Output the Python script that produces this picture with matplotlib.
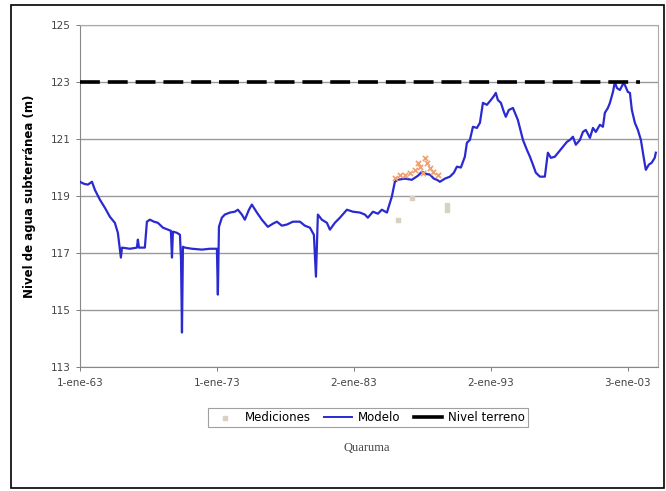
import numpy as np
import matplotlib
matplotlib.use("Agg")
import matplotlib.pyplot as plt
from matplotlib.patches import Rectangle

# modelled groundwater level (decimal year, m)
model_year = [1963.00, 1963.29, 1963.58, 1963.88, 1964.09, 1964.46, 1964.82, 1965.19, 1965.55, 1965.77,
              1965.92, 1965.99, 1966.07, 1966.65, 1967.16, 1967.23, 1967.31, 1967.74, 1967.89, 1968.11,
              1968.40, 1968.69, 1969.06, 1969.42, 1969.64, 1969.72, 1969.79, 1970.08, 1970.30, 1970.38,
              1970.45, 1970.52, 1970.66, 1971.18, 1971.91, 1972.49, 1973.00, 1973.07, 1973.15, 1973.36,
              1973.58, 1973.95, 1974.31, 1974.53, 1974.82, 1975.04, 1975.34, 1975.55, 1975.92, 1976.28,
              1976.72, 1977.09, 1977.38, 1977.74, 1978.11, 1978.55, 1979.06, 1979.42, 1979.79, 1980.08,
              1980.23, 1980.37, 1980.66, 1981.03, 1981.25, 1981.61, 1981.98, 1982.49, 1982.93, 1983.44,
              1983.80, 1984.02, 1984.39, 1984.75, 1985.04, 1985.41, 1985.63, 1985.77, 1985.99, 1986.21,
              1986.72, 1987.23, 1987.67, 1987.96, 1988.26, 1988.55, 1988.84, 1989.06, 1989.28, 1989.64,
              1990.01, 1990.30, 1990.52, 1990.81, 1991.10, 1991.25, 1991.47, 1991.69, 1991.98, 1992.20,
              1992.42, 1992.71, 1993.00, 1993.22, 1993.36, 1993.51, 1993.73, 1993.95, 1994.09, 1994.31,
              1994.61, 1994.97, 1995.34, 1995.63, 1995.85, 1996.07, 1996.28, 1996.58, 1996.94, 1997.16,
              1997.38, 1997.67, 1997.96, 1998.26, 1998.55, 1998.77, 1998.99, 1999.20, 1999.50, 1999.72,
              1999.93, 2000.23, 2000.45, 2000.66, 2000.96, 2001.18, 2001.32, 2001.54, 2001.69, 2001.91,
              2002.05, 2002.20, 2002.42, 2002.64, 2002.78, 2003.00, 2003.15, 2003.29, 2003.51, 2003.73,
              2003.95, 2004.16, 2004.31, 2004.53, 2004.74, 2004.96, 2005.04]
model_level = [119.50, 119.43, 119.40, 119.50, 119.22, 118.87, 118.59, 118.27, 118.06, 117.71,
               117.12, 116.84, 117.19, 117.15, 117.19, 117.47, 117.19, 117.19, 118.10, 118.17,
               118.10, 118.06, 117.89, 117.82, 117.78, 116.84, 117.75, 117.71, 117.64, 116.77,
               114.21, 117.22, 117.19, 117.15, 117.12, 117.15, 117.15, 115.54, 117.92, 118.24,
               118.35, 118.42, 118.45, 118.52, 118.35, 118.17, 118.52, 118.70, 118.42, 118.17,
               117.92, 118.03, 118.10, 117.96, 118.00, 118.10, 118.10, 117.96, 117.89, 117.64,
               116.17, 118.35, 118.17, 118.06, 117.82, 118.06, 118.24, 118.52, 118.45, 118.42,
               118.35, 118.24, 118.45, 118.38, 118.52, 118.42, 118.77, 118.98, 119.50, 119.57,
               119.61, 119.57, 119.71, 119.85, 119.78, 119.75, 119.61, 119.57, 119.50, 119.61,
               119.68, 119.82, 120.03, 120.00, 120.38, 120.87, 120.97, 121.43, 121.39, 121.57,
               122.27, 122.20, 122.37, 122.51, 122.62, 122.37, 122.27, 121.95, 121.78, 122.02,
               122.09, 121.67, 120.97, 120.62, 120.38, 120.10, 119.82, 119.68, 119.68, 120.52,
               120.34, 120.38, 120.55, 120.73, 120.90, 120.97, 121.08, 120.80, 120.97, 121.25,
               121.32, 121.04, 121.39, 121.25, 121.50, 121.43, 121.92, 122.09, 122.27, 122.65,
               123.00, 122.79, 122.72, 122.93, 122.90, 122.65, 122.62, 122.02, 121.57, 121.32,
               120.97, 120.34, 119.92, 120.10, 120.17, 120.34, 120.52]

# measured levels
meas_year = [1985.99, 1986.36, 1986.72, 1987.09, 1987.45, 1987.67, 1987.82, 1988.04, 1988.18,
             1988.33, 1988.55, 1988.77, 1989.13]
meas_level = [119.64, 119.75, 119.75, 119.82, 119.92, 120.17, 120.03, 119.82, 120.34,
              120.17, 119.99, 119.85, 119.75]
meas_low_year = [1986.21, 1987.23, 1989.79, 1989.79]
meas_low_level = [118.17, 118.94, 118.70, 118.52]

# ground level
terrain_year = [1963.0, 2003.9]
terrain_level = [123.0, 123.0]

x_ticks = [1963, 1973, 1983, 1993, 2003]
x_labels = ['1-ene-63', '1-ene-73', '2-ene-83', '2-ene-93', '3-ene-03']
y_ticks = [113, 115, 117, 119, 121, 123, 125]

plt.rcParams['font.family'] = ['DejaVu Sans']

fig = plt.figure(figsize=(6.66, 4.91), dpi=100)
ax = fig.add_axes([0.120, 0.2525, 0.868, 0.6965])

ax.plot(model_year, model_level, color='#2a2ad0', linewidth=1.6, label='Modelo', zorder=3)
ax.scatter(meas_low_year, meas_low_level, marker='s', s=10, color='#d8d0c0', zorder=4)
ax.scatter(meas_year, meas_level, marker='x', s=14, color='#f0a070', linewidths=1.2, zorder=4)
ax.plot(terrain_year, terrain_level, color='black', linewidth=2.6, dashes=(5.5, 2.2),
        label='Nivel terreno', zorder=5)

ax.set_xlim(1963.0, 2005.2)
ax.set_ylim(113, 125)
ax.set_xticks(x_ticks)
ax.set_xticklabels(x_labels)
ax.set_yticks(y_ticks)
ax.tick_params(labelsize=7.5, colors='#666666', length=3, width=0.6, labelcolor='#444444')
ax.tick_params(axis='x', pad=5)
ax.yaxis.grid(True, color='#999999', linewidth=1.0)
ax.set_axisbelow(True)
for s in ax.spines.values():
    s.set_color('#aaaaaa')
ax.spines['left'].set_color('#888888')
ax.spines['bottom'].set_color('#888888')

ax.set_ylabel('Nivel de agua subterránea (m)', fontsize=8.5, fontweight='bold', labelpad=11)

# legend with a grey square for the measurements
h_meas = ax.scatter([], [], marker='s', s=8, color='#d8d0c0')
h_mod, = ax.plot([], [], color='#2a2ad0', linewidth=1.4)
h_ter, = ax.plot([], [], color='black', linewidth=2.6)
leg = fig.legend([h_meas, h_mod, h_ter], ['Mediciones', 'Modelo', 'Nivel terreno'],
                 loc='center', bbox_to_anchor=(0.552, 0.149), ncol=3, fontsize=8.5,
                 frameon=True, fancybox=False, handlelength=2.4, columnspacing=1.1,
                 handletextpad=0.5, borderpad=0.25)
leg.get_frame().set_edgecolor('#888888')
leg.get_frame().set_linewidth(0.8)

fig.text(0.55, 0.088, 'Quaruma', ha='center', va='center', fontsize=9,
         family='Liberation Serif', color='#444444')

fig.patches.append(Rectangle((0.016, 0.006), 0.981, 0.984, transform=fig.transFigure,
                             fill=False, edgecolor='black', linewidth=1.2))

fig.savefig('out.png', dpi=100)
